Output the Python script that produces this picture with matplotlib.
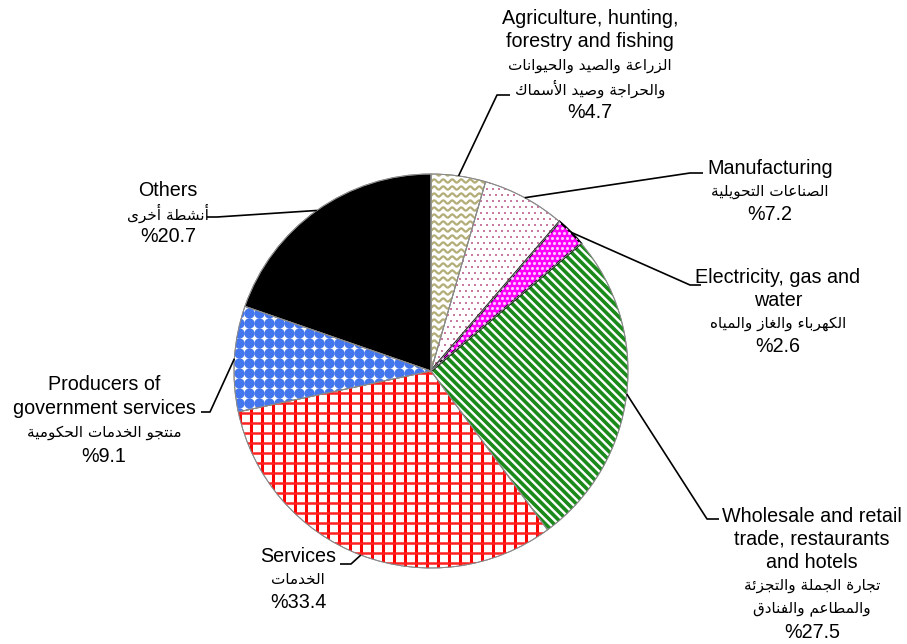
import numpy as np
import matplotlib
matplotlib.use("Agg")
import matplotlib.pyplot as plt
from matplotlib.patches import Wedge

# ---------------- data ----------------
sectors_en = ["Agriculture, hunting,\nforestry and fishing",
              "Manufacturing",
              "Electricity, gas and\nwater",
              "Wholesale and retail\ntrade, restaurants\nand hotels",
              "Services",
              "Producers of\ngovernment services",
              "Others"]
sectors_ar = ["الزراعة والصيد والحيوانات\nوالحراجة وصيد الأسماك",
              "الصناعات التحويلية",
              "الكهرباء والغاز والمياه",
              "تجارة الجملة والتجزئة\nوالمطاعم والفنادق",
              "الخدمات",
              "منتجو الخدمات الحكومية",
              "أنشطة أخرى"]
shares = [4.7, 7.2, 2.6, 27.5, 33.4, 9.1, 20.7]

# ---------------- simple Arabic shaping (presentation forms, visual order) ----------------
_AR = {'ء': (0xFE80, 1), 'آ': (0xFE81, 2), 'أ': (0xFE83, 2), 'ؤ': (0xFE85, 2), 'إ': (0xFE87, 2),
       'ئ': (0xFE89, 4), 'ا': (0xFE8D, 2), 'ب': (0xFE8F, 4), 'ة': (0xFE93, 2), 'ت': (0xFE95, 4),
       'ث': (0xFE99, 4), 'ج': (0xFE9D, 4), 'ح': (0xFEA1, 4), 'خ': (0xFEA5, 4), 'د': (0xFEA9, 2),
       'ذ': (0xFEAB, 2), 'ر': (0xFEAD, 2), 'ز': (0xFEAF, 2), 'س': (0xFEB1, 4), 'ش': (0xFEB5, 4),
       'ص': (0xFEB9, 4), 'ض': (0xFEBD, 4), 'ط': (0xFEC1, 4), 'ظ': (0xFEC5, 4), 'ع': (0xFEC9, 4),
       'غ': (0xFECD, 4), 'ف': (0xFED1, 4), 'ق': (0xFED5, 4), 'ك': (0xFED9, 4), 'ل': (0xFEDD, 4),
       'م': (0xFEE1, 4), 'ن': (0xFEE5, 4), 'ه': (0xFEE9, 4), 'و': (0xFEED, 2), 'ى': (0xFEEF, 2),
       'ي': (0xFEF1, 4)}
_LAMALEF = {'آ': 0xFEF5, 'أ': 0xFEF7, 'إ': 0xFEF9, 'ا': 0xFEFB}


def shape_ar(text):
    toks = []
    i = 0
    while i < len(text):
        c = text[i]
        if c == 'ل' and i + 1 < len(text) and text[i + 1] in _LAMALEF:
            toks.append((c, _LAMALEF[text[i + 1]], 2))
            i += 2
        elif c in _AR:
            toks.append((c,) + _AR[c])
            i += 1
        else:
            toks.append((c, None, 0))
            i += 1
    res = []
    for j, (c, base, n) in enumerate(toks):
        if base is None:
            res.append(c)
            continue
        prev = toks[j - 1] if j > 0 else None
        nxt = toks[j + 1] if j + 1 < len(toks) else None
        jp = prev is not None and prev[2] == 4
        jn = n == 4 and nxt is not None and nxt[1] is not None and nxt[2] >= 2
        if n == 1:
            f = 0
        elif jp and jn:
            f = 3
        elif jp:
            f = 1
        elif jn:
            f = 2
        else:
            f = 0
        res.append(chr(base + f))
    return ''.join(reversed(res))


# ---------------- figure ----------------
W, H = 907, 644
fig = plt.figure(figsize=(W / 100, H / 100), dpi=100)
ax = fig.add_axes([0, 0, 1, 1])

cx, cy, R = 431, H - 371, 197
wedges, _ = ax.pie(shares, startangle=90, counterclock=False, center=(cx, cy), radius=R,
                   colors=['white'] * len(shares),
                   wedgeprops=dict(edgecolor='#8a8a8a', linewidth=0.7))
ax.set_xlim(0, W)
ax.set_ylim(0, H)
ax.set_aspect('equal')
ax.axis('off')

x0, x1, y0, y1 = cx - R - 5, cx + R + 5, cy - R - 5, cy + R + 5


def clip_all(arts, w):
    for a in arts:
        a.set_clip_path(w)


# 0 Agriculture: olive wavy lines
w = wedges[0]
xs = np.linspace(x0, x1, 800)
arts = []
for yy in np.arange(y0, y1, 7.0):
    arts += ax.plot(xs, yy + 1.6 * np.sin(2 * np.pi * xs / 9.0), color='#b3ad78', lw=1.6, zorder=2)
clip_all(arts, w)

# 1 Manufacturing: pink/purple dots
w = wedges[1]
gx, gy = np.meshgrid(np.arange(x0, x1, 6.0), np.arange(y0, y1, 6.0))
gx = gx + (np.arange(gx.shape[0])[:, None] % 2) * 3.0
s = ax.scatter(gx.ravel(), gy.ravel(), s=3.5, marker='s', color='#c87aa0', linewidths=0, zorder=2)
clip_all([s], w)

# 2 Electricity: magenta with white dots, black border
w = wedges[2]
w.set_facecolor('#ff00ff')
w.set_edgecolor('black')
w.set_linewidth(1.6)
w.set_zorder(3)
gx, gy = np.meshgrid(np.arange(x0, x1, 5.0), np.arange(y0, y1, 5.0))
gx = gx + (np.arange(gx.shape[0])[:, None] % 2) * 2.5
s = ax.scatter(gx.ravel(), gy.ravel(), s=5, marker='o', color='#ffc8ff', linewidths=0, zorder=3)
clip_all([s], w)

# 3 Wholesale: green diagonal stripes
w = wedges[3]
arts = []
for c in np.arange(x0 - (y1 - y0), x1 + (y1 - y0), 8.5):
    arts += ax.plot([c, c + (y1 - y0)], [y1, y0], color='#1a8a1a', lw=2.6, zorder=2)
clip_all(arts, w)

# 4 Services: red grid
w = wedges[4]
arts = []
for xx in np.arange(x0, x1, 11.0):
    arts += ax.plot([xx, xx], [y0, y1], color='#ff0000', lw=2.2, zorder=2)
for yy in np.arange(y0, y1, 10.0):
    arts += ax.plot([x0, x1], [yy, yy], color='#ff2020', lw=1.8, zorder=2)
clip_all(arts, w)

# 5 Producers of government services: blue blobs
w = wedges[5]
gx, gy = np.meshgrid(np.arange(x0, x1, 10.0), np.arange(y0, y1, 10.0))
s = ax.scatter(gx.ravel(), gy.ravel(), s=55, marker='o', color='#4477ee', linewidths=0, zorder=2)
clip_all([s], w)

# 6 Others: solid black
wedges[6].set_facecolor('black')

# gray outlines above the textures
for i, wd in enumerate(wedges):
    if i == 2:
        continue
    wd.set_zorder(1)
    ax.add_patch(Wedge(wd.center, wd.r, wd.theta1, wd.theta2, facecolor='none',
                       edgecolor='#8a8a8a', linewidth=0.7, zorder=4))

# ---------------- labels ----------------
# (text centre x, first line y in px, line step, elbow point, end of horizontal stub)
layout = [
    (590, 18, 23.5, (497, 95), (510, 95)),
    (770, 168, 23.0, (690, 173), (703, 173)),
    (778, 277, 23.0, (690, 285), (701, 285)),
    (812, 516, 23.2, (707, 519), (719, 519)),
    (298, 557, 23.0, (351, 564), (340, 564)),
    (104, 384, 24.0, (210, 412), (201, 412)),
    (168, 190, 23.0, (217, 217), (207, 217)),
]
en_font = dict(family='Liberation Sans', fontsize=14.2, color='black')
ar_font = dict(family=['DejaVu Sans'], fontsize=11, color='black')

for k, wd in enumerate(wedges):
    tx, ty, step, elbow, stub = layout[k]
    lines = [(ln, en_font) for ln in sectors_en[k].split('\n')]
    lines += [(shape_ar(ln), ar_font) for ln in sectors_ar[k].split('\n')]
    lines += [("%" + f"{shares[k]:.1f}", en_font)]
    for i, (ln, fnt) in enumerate(lines):
        ax.text(tx, H - (ty + i * step), ln, ha='center', va='center', zorder=6, **fnt)
    mid = np.deg2rad((wd.theta1 + wd.theta2) / 2)
    px, py = cx + R * np.cos(mid), cy + R * np.sin(mid)
    ax.plot([px, elbow[0], stub[0]], [py, H - elbow[1], H - stub[1]], color='black', lw=1.2,
            zorder=5, solid_capstyle='butt')

fig.savefig('out.png', dpi=100)
